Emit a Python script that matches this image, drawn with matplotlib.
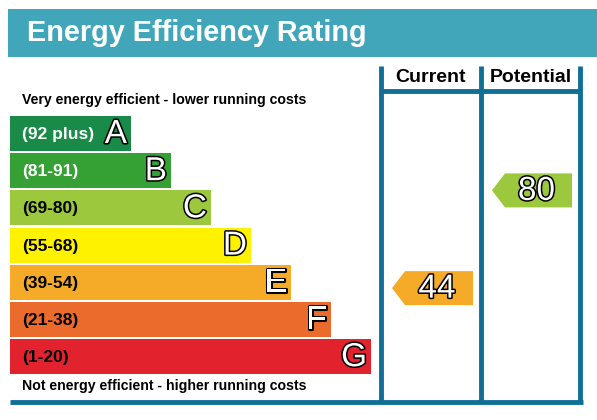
import matplotlib
matplotlib.use("Agg")
import matplotlib.pyplot as plt
from matplotlib.patches import Polygon, Rectangle
import matplotlib.patheffects as pe

# datos del certificado
bandas = ["A", "B", "C", "D", "E", "F", "G"]
rangos = ["(92 plus)", "(81-91)", "(69-80)", "(55-68)", "(39-54)", "(21-38)", "(1-20)"]
limites = [(92, 100), (81, 91), (69, 80), (55, 68), (39, 54), (21, 38), (1, 20)]
colores = ["#1a8a48", "#35a135", "#9cc83e", "#fff200", "#f5ab27", "#eb6b2c", "#e2222c"]
color_rango = ["white", "white", "black", "black", "black", "black", "black"]
actual = 44
potencial = 80

AZUL = "#106f97"
BANNER = "#42a6ba"
FUENTE = ["Liberation Sans", "DejaVu Sans"]

fig = plt.figure(figsize=(5.97, 4.2), dpi=100)
ax = fig.add_axes([0, 0, 1, 1])
ax.set_xlim(0, 597)
ax.set_ylim(420, 0)
ax.axis("off")

# banner del titulo
ax.add_patch(Rectangle((8, 9), 600, 48, color=BANNER, lw=0))
ax.text(27, 33, "Energy Efficiency Rating", color="white", fontsize=20.8,
        fontweight="bold", family=FUENTE, va="center", ha="left")

ax.text(22, 100, "Very energy efficient - lower running costs", fontsize=10.2,
        fontweight="bold", family=FUENTE, va="center")
ax.text(22, 386, "Not energy efficient - higher running costs", fontsize=10.2,
        fontweight="bold", family=FUENTE, va="center")

# barras
x0 = 10
alto = 35
paso = 37.2
y_top = [116 + paso * i for i in range(len(bandas))]
largos = [121 + 40 * i for i in range(len(bandas))]
ax.barh([y + alto / 2 for y in y_top], largos, height=alto, left=x0,
        color=colores, lw=0)

contorno = [pe.withStroke(linewidth=2.2, foreground="black")]
for i, b in enumerate(bandas):
    yc = y_top[i] + alto / 2
    ax.text(22, yc + 1, rangos[i], color=color_rango[i], fontsize=12.5,
            fontweight="bold", family=FUENTE, va="center")
    ax.text(x0 + largos[i] - 4, yc + 1, b, color="white", fontsize=24,
            family=FUENTE, va="center", ha="right", path_effects=contorno)

# columnas
col_x = [381, 481, 580]
for x in col_x:
    ax.plot([x, x], [66, 402], color=AZUL, lw=3.5, solid_capstyle="butt")
ax.plot([col_x[0], col_x[2]], [90.5, 90.5], color=AZUL, lw=3.5, solid_capstyle="butt")
ax.plot([10, 583], [402, 402], color=AZUL, lw=3.5, solid_capstyle="butt")
ax.text((col_x[0] + col_x[1]) / 2, 77, "Current", fontsize=14, fontweight="bold",
        family=FUENTE, ha="center", va="center")
ax.text((col_x[1] + col_x[2]) / 2, 77, "Potential", fontsize=14, fontweight="bold",
        family=FUENTE, ha="center", va="center")


def banda_de(v):
    for i, (lo, hi) in enumerate(limites):
        if lo <= v <= hi:
            return i
    return len(limites) - 1


def flecha(v, izq, der):
    i = banda_de(v)
    lo, hi = limites[i]
    yc = y_top[i] + (hi - v) / (hi - lo) * alto
    punta = izq + 11
    fin = der - 8
    h = 17
    pts = [(punta, yc), (punta + 13, yc - h), (fin, yc - h), (fin, yc + h), (punta + 13, yc + h)]
    ax.add_patch(Polygon(pts, closed=True, color=colores[i], lw=0))
    ax.text((punta + 13 + fin) / 2 - 2, yc + 1, str(v), color="white", fontsize=24,
            family=FUENTE, ha="center", va="center", path_effects=contorno)


flecha(actual, col_x[0], col_x[1])
flecha(potencial, col_x[1], col_x[2])

fig.savefig("out.png", dpi=100)
